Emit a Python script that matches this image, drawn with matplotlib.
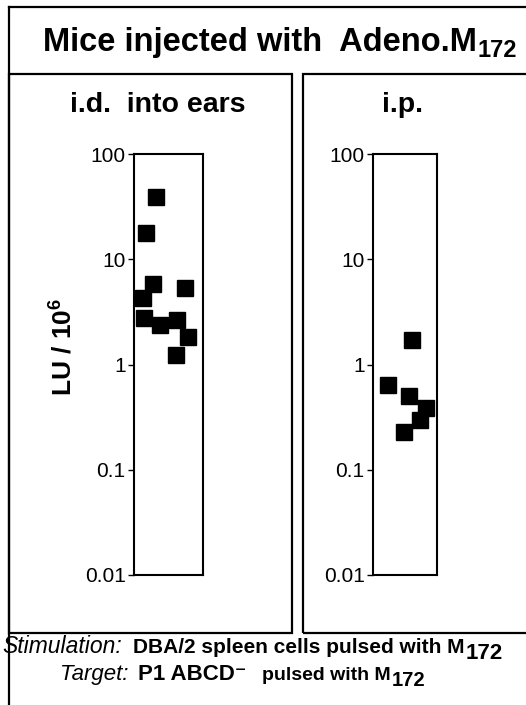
import matplotlib.pyplot as plt
from matplotlib.lines import Line2D
from matplotlib.patches import Rectangle

plt.rcParams['font.family'] = ['Liberation Sans', 'DejaVu Sans']
plt.rcParams['mathtext.fontset'] = 'custom'
plt.rcParams['mathtext.rm'] = 'Liberation Sans'
plt.rcParams['mathtext.bf'] = 'Liberation Sans:bold'

# LU / 10^6 values per mouse (x = horizontal scatter inside the column)
id_x = [0.32, 0.17, 0.28, 0.13, 0.14, 0.38, 0.62, 0.78, 0.74, 0.61]
id_lu = [39, 17.7, 5.8, 4.3, 2.77, 2.37, 2.65, 1.83, 5.3, 1.23]
ip_x = [0.61, 0.23, 0.56, 0.83, 0.73, 0.48]
ip_lu = [1.71, 0.64, 0.50, 0.39, 0.30, 0.23]

yticks = [100, 10, 1, 0.1, 0.01]
ylabels = ['100', '10', '1', '0.1', '0.01']

W, H = 526, 705
fig = plt.figure(figsize=(W / 100, H / 100), dpi=100)
renderer = fig.canvas.get_renderer()


def fx(x):
    return x / W


def fy(y):
    return 1 - y / H


def box(x0, y0, x1, y1):
    fig.add_artist(Rectangle((fx(x0), fy(y1)), fx(x1) - fx(x0), fy(y0) - fy(y1),
                             transform=fig.transFigure, fill=False,
                             edgecolor='black', linewidth=1.6, clip_on=False))


def line(xs, ys):
    fig.add_artist(Line2D([fx(x) for x in xs], [fy(y) for y in ys],
                          transform=fig.transFigure, color='black', linewidth=1.6))


def with_sub(x, y, main, sub, size, subsize, drop):
    # main text, then the subscript placed right after it
    t = fig.text(fx(x), fy(y), main, ha='left', va='baseline',
                 fontsize=size, fontweight='bold')
    bb = t.get_window_extent(renderer)
    fig.text((bb.x1 + 1) / W, fy(y + drop), sub, ha='left', va='baseline',
             fontsize=subsize, fontweight='bold')


# frames
line([9, 530], [7, 7])
line([9, 9], [7, 710])
box(9, 74, 292, 633)
box(303, 74, 540, 633)

ax1 = fig.add_axes([fx(134), fy(575), fx(203) - fx(134), fy(154) - fy(575)])
ax2 = fig.add_axes([fx(373), fy(575), fx(437) - fx(373), fy(154) - fy(575)])

for ax, xs, ys in [(ax1, id_x, id_lu), (ax2, ip_x, ip_lu)]:
    ax.plot(xs, ys, 's', color='black', markersize=11.5, clip_on=False)
    ax.set_yscale('log')
    ax.set_ylim(0.01, 100)
    ax.set_xlim(0, 1)
    ax.set_xticks([])
    ax.set_yticks(yticks)
    ax.set_yticklabels(ylabels)
    ax.yaxis.set_minor_locator(plt.NullLocator())
    ax.tick_params(axis='y', direction='out', length=4, width=1, labelsize=15, pad=2)
    for s in ax.spines.values():
        s.set_linewidth(1.5)

# titles
with_sub(43, 51, 'Mice injected with  Adeno.M', '172', 23.5, 17, 6)
fig.text(fx(158), fy(112), 'i.d.  into ears', ha='center', va='baseline',
         fontsize=20.5, fontweight='bold')
fig.text(fx(402), fy(112), 'i.p.', ha='center', va='baseline',
         fontsize=20.5, fontweight='bold')
fig.text(fx(62), fy(347), r'LU / 10$^{\mathbf{6}}$', ha='center', va='center',
         rotation=90, fontsize=19, fontweight='bold')

# bottom legend text
fig.text(fx(2), fy(653), 'Stimulation:', ha='left', va='baseline', fontsize=16.5, style='italic')
with_sub(133, 653, 'DBA/2 spleen cells pulsed with M', '172', 15, 16, 6)
fig.text(fx(128), fy(680), 'Target:', ha='right', va='baseline', fontsize=16, style='italic')
fig.text(fx(138), fy(680), 'P1 ABCD\u207b', ha='left', va='baseline',
         fontsize=16, fontweight='bold')
with_sub(262, 680, 'pulsed with M', '172', 14, 14.5, 6)

fig.savefig('out.png', dpi=100)
